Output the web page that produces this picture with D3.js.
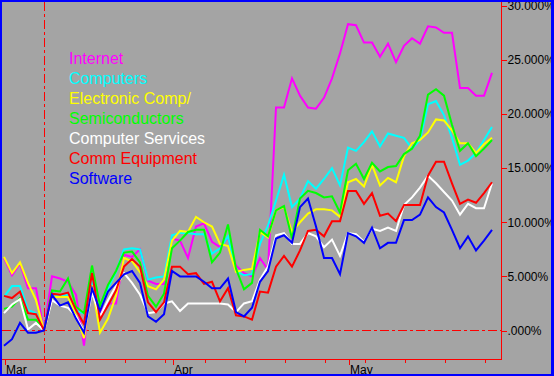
<!DOCTYPE html>
<html><head><meta charset="utf-8">
<script src="https://cdn.jsdelivr.net/npm/d3@7/dist/d3.min.js"></script>
<style>
html,body{margin:0;padding:0;background:#a4a4a4;}
svg{display:block;}
text{font-family:"Liberation Sans",Arial,sans-serif;}
</style></head><body>
<svg id="chart" width="554" height="376"></svg>
<script>
// ---- data (percent change since base date) ----
const seriesNames = ["Internet","Computers","Electronic Comp/","Semiconductors","Computer Services","Comm Equipment","Software"];
const seriesColors = ["#ff00ff","#00ffff","#ffff00","#00ff00","#ffffff","#ff0000","#0000ff"];

const internet = [6.7,5.1,6.2,3.9,3.9,0.0,5.0,4.8,4.5,3.3,
  -1.4,5.4,1.7,2.5,2.5,7.0,6.8,7.5,4.6,4.3,
  4.3,8.5,8.3,6.7,9.6,9.9,8.2,7.7,8.6,6.0,
  5.3,5.0,6.7,5.6,20.6,20.6,23.3,21.7,20.6,20.5,
  21.5,23.3,25.6,28.3,28.2,26.6,26.6,25.3,26.5,24.8,
  26.3,27.0,26.5,28.1,28.0,27.5,27.5,22.4,22.4,21.7,
  21.7,23.8];
const computers = [3.1,4.1,4.1,1.9,1.6,0.0,3.5,3.1,3.3,1.8,
  1.6,4.6,2.2,3.9,5.4,7.5,7.6,7.5,4.7,4.9,
  5.0,8.8,9.0,9.0,8.9,8.9,7.1,7.6,8.7,5.5,
  5.1,5.2,8.0,9.7,12.0,14.4,11.4,12.2,13.8,13.1,
  14.0,15.0,13.4,16.9,16.6,17.4,18.4,17.0,18.2,18.0,
  17.8,16.8,17.6,20.9,21.2,19.9,17.8,15.3,15.7,16.4,
  17.6,18.8];
const electronicComp = [6.8,5.3,6.3,4.4,2.8,0.0,3.1,3.1,3.1,1.4,
  -0.7,4.2,-0.2,1.1,3.2,6.7,6.4,5.4,4.1,3.8,
  4.7,8.3,9.2,9.1,10.5,10.0,9.6,8.0,7.8,5.4,
  5.6,5.7,9.1,8.6,11.1,11.4,9.1,10.0,10.8,11.2,
  11.2,11.1,10.5,13.7,14.0,13.3,15.3,13.4,14.1,13.7,
  16.1,17.3,17.6,18.3,19.5,19.4,18.5,17.3,17.3,16.4,
  17.2,17.8];
const semiconductors = [2.0,2.2,3.0,1.0,1.0,0.0,3.7,3.6,4.8,2.2,
  1.6,6.0,2.3,4.2,5.5,7.2,7.3,6.3,3.2,2.2,
  3.4,7.6,8.3,9.1,9.3,9.3,6.3,7.2,9.8,5.7,
  3.8,4.4,9.3,8.7,11.1,11.5,8.5,12.2,12.9,12.7,
  12.3,12.4,10.9,14.8,15.4,14.0,15.5,14.7,15.1,15.2,
  16.3,16.8,18.0,21.8,22.3,21.7,19.0,16.6,17.3,16.1,
  16.8,17.6];
const computerServices = [1.6,2.4,2.9,0.1,0.7,0.0,2.8,2.3,2.1,1.3,
  -0.1,3.5,1.3,2.8,4.1,5.3,4.4,3.3,1.6,1.7,
  2.5,2.7,1.8,2.5,2.5,2.5,2.5,2.5,2.4,1.7,
  2.5,2.7,4.7,5.9,8.8,9.0,8.0,8.0,9.0,8.7,
  7.7,8.4,6.9,9.0,8.9,8.2,9.4,9.2,9.5,9.2,
  11.6,12.3,13.2,14.3,13.6,12.8,12.0,10.7,11.7,11.3,
  11.3,13.6];
const commEquipment = [3.2,3.0,3.6,1.6,1.5,0.0,3.4,3.3,3.5,1.9,
  0.6,5.3,1.0,2.3,3.7,5.9,6.6,5.9,2.6,1.7,
  2.6,5.9,5.9,5.2,5.3,4.3,4.5,2.7,3.9,1.4,
  1.3,1.0,3.6,3.5,5.9,6.9,5.9,7.4,9.2,9.3,
  8.7,10.1,10.1,12.9,12.9,11.7,12.7,10.6,10.8,10.1,
  11.6,11.6,11.6,14.3,15.6,15.6,13.6,11.7,12.1,11.8,
  12.7,13.7];
const software = [-1.4,-0.8,0.7,-0.2,-0.2,0.0,3.3,2.3,2.6,1.1,
  -0.2,3.9,1.8,3.6,4.4,5.2,5.5,4.4,1.3,0.8,
  1.5,5.5,5.0,5.0,5.0,4.5,3.9,3.9,4.8,1.7,
  1.3,2.1,4.5,5.5,8.5,8.8,8.1,11.4,12.2,9.6,
  6.7,6.7,5.2,9.0,8.7,8.1,9.5,7.6,8.1,8.1,
  10.2,10.2,10.7,12.3,11.4,10.9,9.3,7.6,8.7,7.4,
  8.3,9.3];

const monthLabels = ["Mar","Apr","May"];
const monthStartIndex = [0,21,43];
const weekTickIndex = [0,5,10,15,20,25,30,35,40,45,50,55,60];
const baseIndex = 5;
const yTickValues = [0,5,10,15,20,25,30];
const yTickLabels = [".000%","5.000%","10.000%","15.000%","20.000%","25.000%","30.000%"];

const allSeries = [internet,computers,electronicComp,semiconductors,computerServices,commEquipment,software];

// ---- drawing ----
const svg = d3.select("#chart");
const W = 554, H = 376;
const plot = {left:2, top:2, right:501.5, bottom:359.5};

svg.append("rect").attr("x",0).attr("y",0).attr("width",W).attr("height",H).attr("fill","#a4a4a4");

const x = d3.scaleLinear().domain([0, internet.length-1]).range([4, 492]);
const y = d3.scaleLinear().domain([0, 30]).range([330.5, 5.8]);

svg.append("clipPath").attr("id","clip").append("rect")
  .attr("x",plot.left).attr("y",plot.top)
  .attr("width",plot.right-plot.left).attr("height",plot.bottom-plot.top);

// zero line (dash-dot)
svg.append("line")
  .attr("x1",plot.left).attr("x2",plot.right)
  .attr("y1",330.5).attr("y2",330.5)
  .attr("stroke","#ff0000").attr("stroke-width",1.2)
  .attr("shape-rendering","crispEdges")
  .attr("stroke-dasharray","9,3,3,3");

// base date vertical dash-dot line
svg.append("line")
  .attr("x1",Math.round(x(baseIndex))+0.5).attr("x2",Math.round(x(baseIndex))+0.5)
  .attr("y1",plot.top).attr("y2",plot.bottom)
  .attr("stroke","#ff0000").attr("stroke-width",1.2)
  .attr("shape-rendering","crispEdges")
  .attr("stroke-dasharray","9,3,3,3");

// series lines
const line = d3.line().x((d,i)=>x(i)).y(d=>y(d));
const g = svg.append("g").attr("clip-path","url(#clip)");
allSeries.forEach((s,k)=>{
  g.append("path").datum(s)
    .attr("d",line)
    .attr("fill","none")
    .attr("stroke",seriesColors[k])
    .attr("stroke-width",2)
    .attr("stroke-linejoin","miter");
});

// right axis
const yAxis = d3.axisRight(y)
  .tickValues(yTickValues)
  .tickSize(5).tickSizeOuter(0).tickPadding(1)
  .tickFormat((d,i)=>yTickLabels[i]);
const ya = svg.append("g").attr("transform",`translate(${plot.right},0)`).call(yAxis);
ya.select(".domain").remove();
ya.selectAll("line").attr("stroke","#ff0000").attr("shape-rendering","crispEdges");
ya.selectAll("text").attr("fill","#000").attr("font-size",12)
  .attr("font-family","'Liberation Sans',Arial,sans-serif");
svg.append("line").attr("x1",plot.right).attr("x2",plot.right)
  .attr("y1",plot.top).attr("y2",plot.bottom)
  .attr("stroke","#ff0000").attr("stroke-width",1).attr("shape-rendering","crispEdges");

// bottom axis: weekly minor ticks
const xMinor = d3.axisBottom(x).tickValues(weekTickIndex).tickSize(3).tickSizeOuter(0).tickFormat("");
const xm = svg.append("g").attr("transform",`translate(0.5,${plot.bottom})`).call(xMinor);
xm.select(".domain").remove();
xm.selectAll("line").attr("stroke","#ff0000").attr("shape-rendering","crispEdges");

// bottom axis: month ticks + labels
const xMonth = d3.axisBottom(x).tickValues(monthStartIndex).tickSize(5).tickSizeOuter(0).tickPadding(1)
  .tickFormat((d,i)=>monthLabels[i]);
const xmo = svg.append("g").attr("transform",`translate(0.5,${plot.bottom})`).call(xMonth);
xmo.select(".domain").remove();
xmo.selectAll("line").attr("stroke","#ff0000").attr("shape-rendering","crispEdges");
xmo.selectAll("text").attr("fill","#000").attr("font-size",12)
  .attr("text-anchor","start").attr("x",1)
  .attr("font-family","'Liberation Sans',Arial,sans-serif");

svg.append("line").attr("x1",plot.left).attr("x2",plot.right)
  .attr("y1",plot.bottom).attr("y2",plot.bottom)
  .attr("stroke","#ff0000").attr("stroke-width",1).attr("shape-rendering","crispEdges");

// legend
const leg = svg.append("g");
seriesNames.forEach((n,k)=>{
  leg.append("text").attr("x",69).attr("y",63.5+k*20)
    .attr("fill",seriesColors[k]).attr("font-size",16).text(n);
});

// blue frame
svg.append("rect").attr("x",0).attr("y",0).attr("width",W).attr("height",2).attr("fill","#0000ff");
svg.append("rect").attr("x",0).attr("y",374).attr("width",W).attr("height",2).attr("fill","#0000ff");
svg.append("rect").attr("x",0).attr("y",0).attr("width",2).attr("height",H).attr("fill","#0000ff");
svg.append("rect").attr("x",551).attr("y",0).attr("width",3).attr("height",H).attr("fill","#0000ff");
</script>
</body></html>
